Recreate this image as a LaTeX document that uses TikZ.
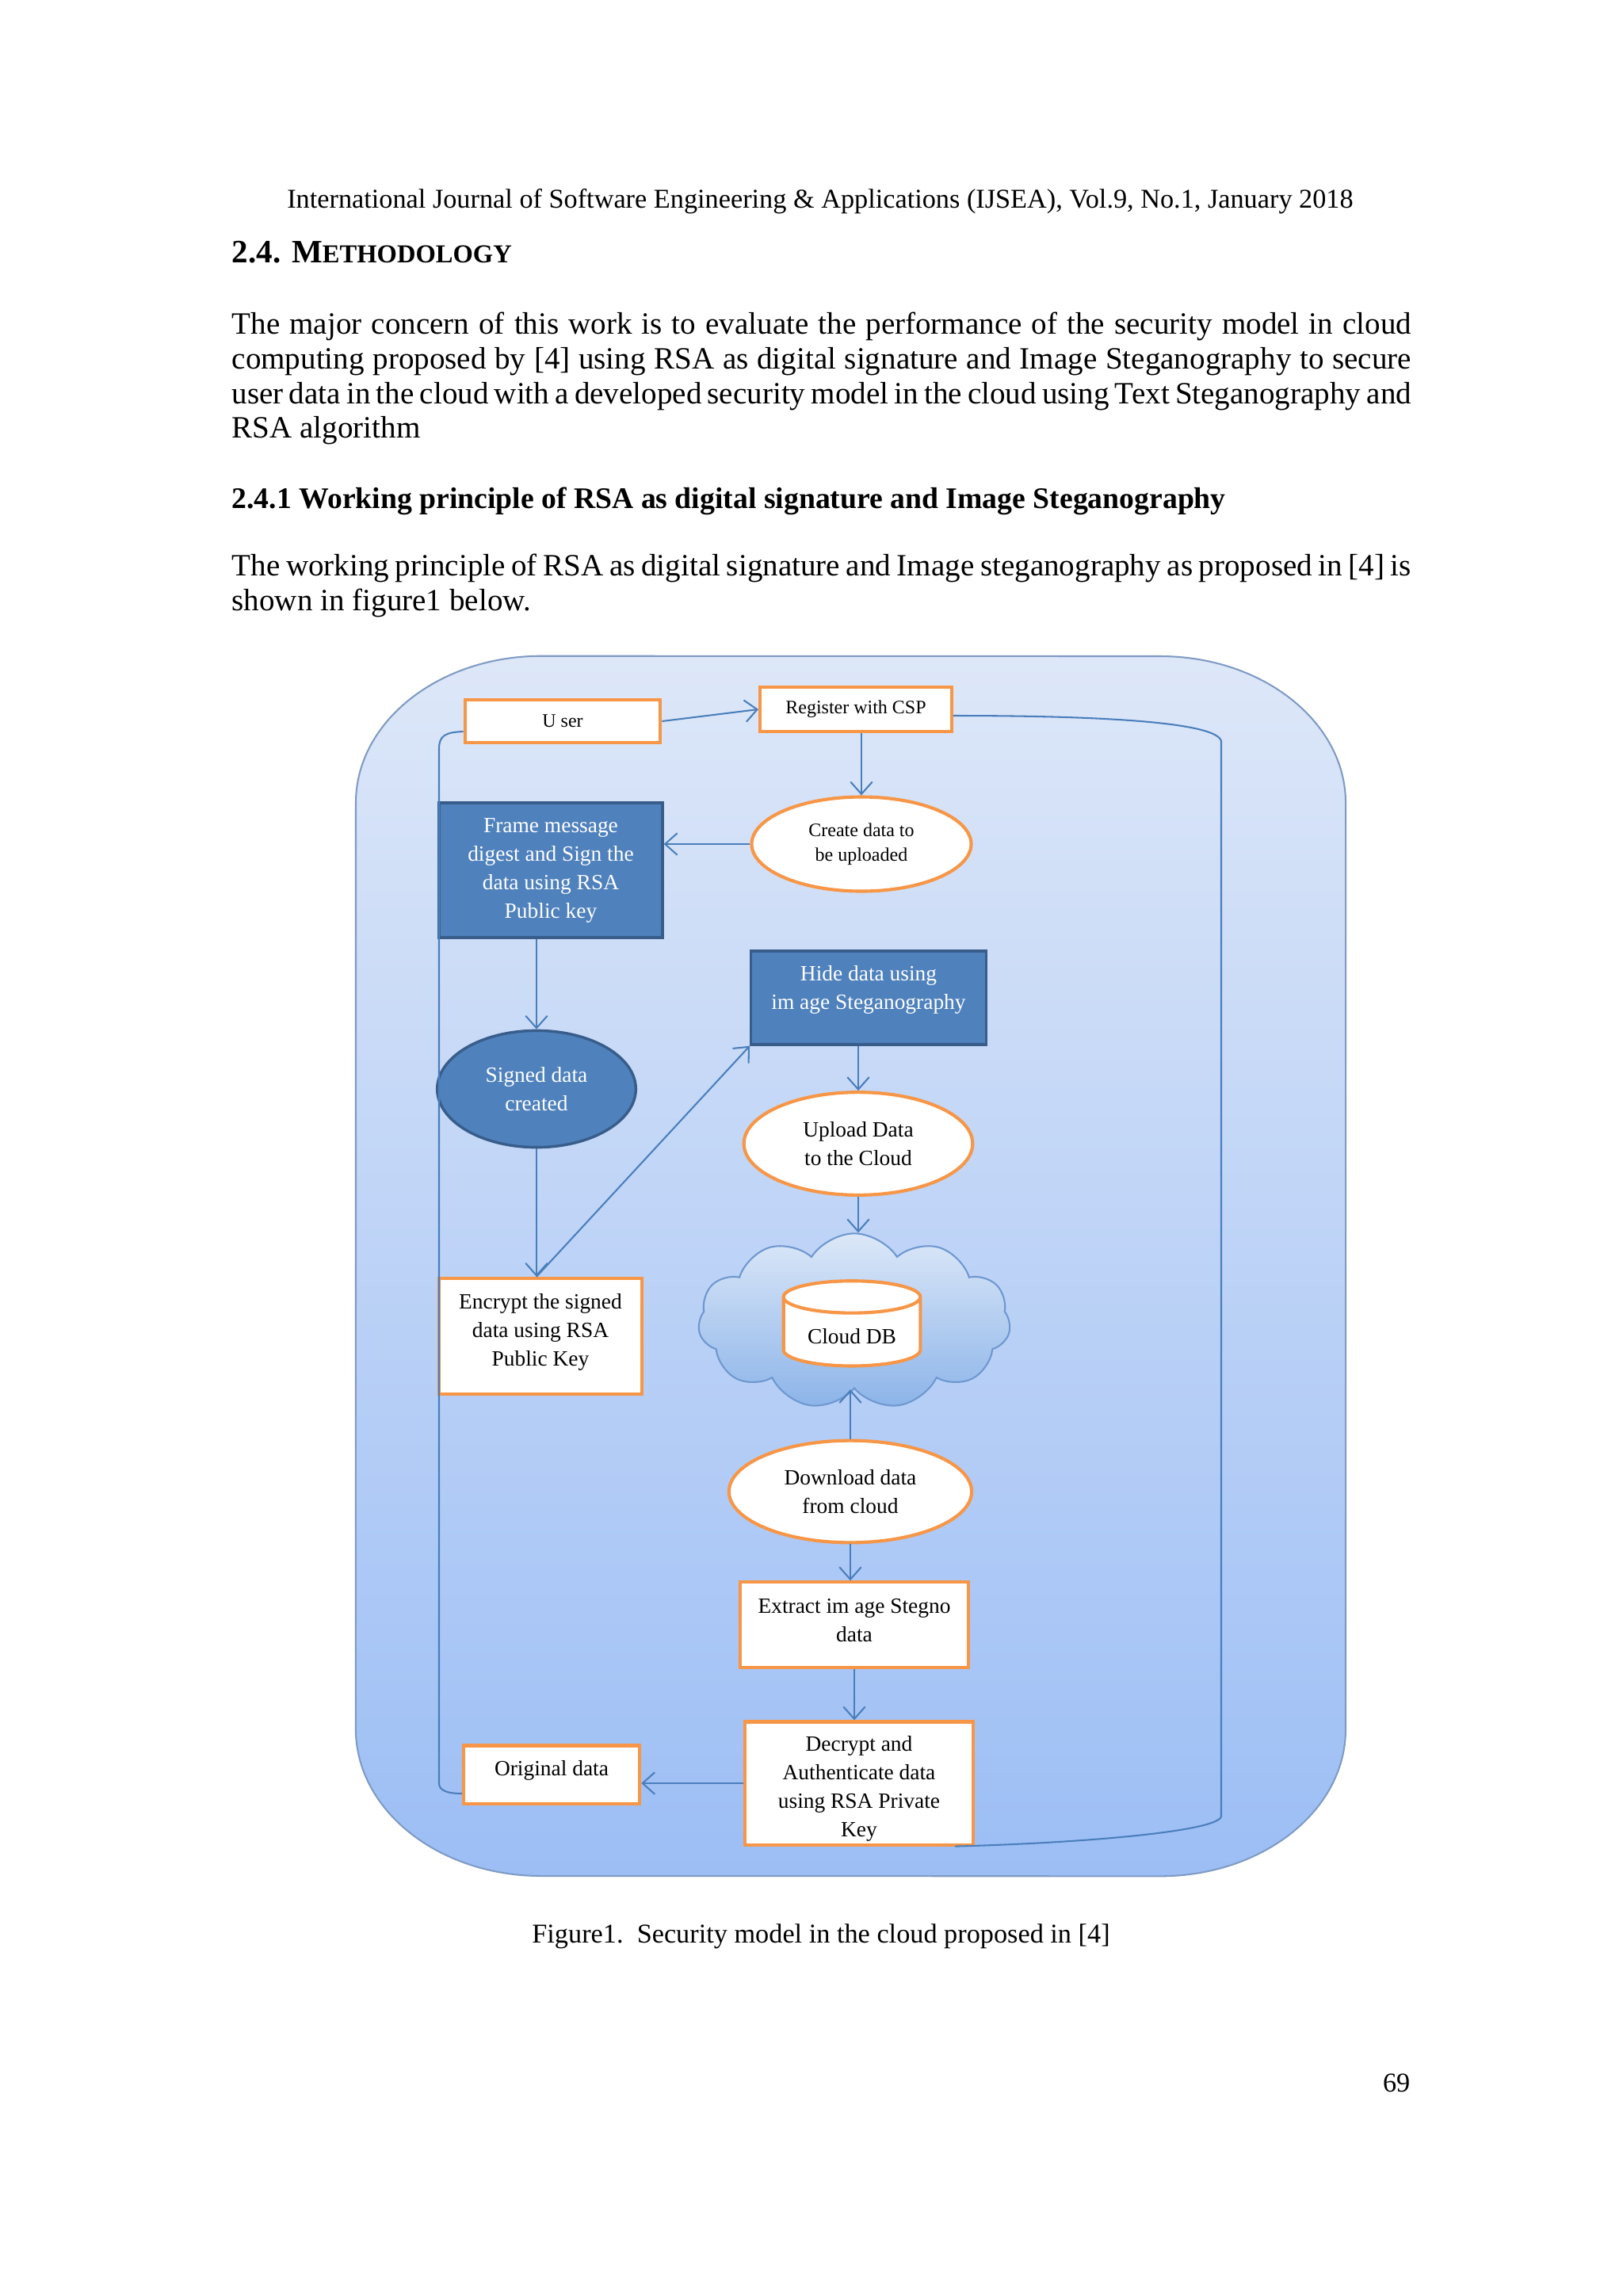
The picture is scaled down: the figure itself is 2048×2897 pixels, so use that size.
\documentclass[tikz,border=0pt]{standalone}
\usepackage{fontspec}
\setmainfont{Liberation Serif}
\usetikzlibrary{shapes.geometric, shapes.symbols, arrows.meta, calc}
\usepackage{xcolor}
\definecolor{FigOrange}{HTML}{F79646}
\definecolor{FigNavy}{HTML}{4F81BD}
\definecolor{FigNavyDark}{HTML}{385D8A}
\definecolor{FigLine}{HTML}{4A7EBB}
\definecolor{FigBgTop}{HTML}{DDE7F8}
\definecolor{FigBgBottom}{HTML}{9CBEF5}
\definecolor{FigBgBorder}{HTML}{7F9AC4}
\definecolor{CloudTop}{HTML}{DCE8F8}
\definecolor{CloudBottom}{HTML}{8CB4E9}
\definecolor{CloudBorder}{HTML}{6E97CF}
\tikzset{
    % Page text
    bodytext/.style={
        anchor=base west,
        inner sep=0pt,
        font=\fontsize{11.4}{12.7}\selectfont
    },
    smalltext/.style={
        inner sep=0pt,
        font=\fontsize{10}{12}\selectfont
    },
    % Box styles
    whitebox/.style={
        rectangle,
        draw=FigOrange,
        fill=white,
        line width=1.2pt,
        align=center,
        inner sep=1pt,
        font=\fontsize{8}{10.5}\selectfont
    },
    bluebox/.style={
        rectangle,
        draw=FigNavyDark,
        fill=FigNavy,
        line width=1pt,
        text=white,
        align=center,
        inner sep=1pt,
        font=\fontsize{8}{10.5}\selectfont
    },
    whiteoval/.style={
        ellipse,
        draw=FigOrange,
        fill=white,
        line width=1.2pt,
        align=center,
        inner sep=0pt,
        font=\fontsize{8}{10.5}\selectfont
    },
    blueoval/.style={
        ellipse,
        draw=FigNavyDark,
        fill=FigNavy,
        line width=1pt,
        text=white,
        align=center,
        inner sep=0pt,
        font=\fontsize{8}{10.5}\selectfont
    },
    cloudshape/.style={
        cloud,
        cloud puffs=11,
        cloud puff arc=115,
        draw=CloudBorder,
        top color=CloudTop,
        bottom color=CloudBottom,
        line width=0.6pt,
        minimum width=4.04cm,
        minimum height=2.27cm
    },
    dbcyl/.style={
        cylinder,
        shape border rotate=90,
        aspect=0.3,
        draw=FigOrange,
        line width=1.2pt,
        cylinder uses custom fill,
        cylinder body fill=white,
        cylinder end fill=white,
        minimum width=1.77cm,
        minimum height=1.1cm,
        font=\fontsize{8}{10.5}\selectfont
    },
    % Connectors
    arrow/.style={
        -{Straight Barb[length=4.5pt,width=8pt]},
        line width=0.6pt,
        draw=FigLine
    },
    loopline/.style={
        line width=0.6pt,
        draw=FigLine
    }
}

\begin{document}
\begin{tikzpicture}[x=0.010254cm, y=-0.010254cm]
    \fill[white] (0,0) rectangle (2048,2897);
    \useasboundingbox (0,0) rectangle (2048,2897);

    % page text
    \node[smalltext, anchor=base] (header) at (1035,262) {International Journal of Software Engineering \& Applications (IJSEA), Vol.9, No.1, January 2018};
    \node[bodytext, font=\fontsize{12}{12.7}\selectfont\bfseries] (sechead) at (292,331) {2.4. M{\fontsize{9.5}{10}\selectfont ETHODOLOGY}};

    \node[bodytext] (introa) at (292,421) {\makebox[15.26cm][s]{The major concern of this work is to evaluate the performance of the security model in cloud}};
    \node[bodytext] (introb) at (292,465) {\makebox[15.26cm][s]{computing proposed by [4] using RSA as digital signature and Image Steganography to secure}};
    \node[bodytext] (introc) at (292,509) {\makebox[15.26cm][s]{user data in the cloud with a developed security model in the cloud using Text Steganography and}};
    \node[bodytext] (introd) at (292,552) {RSA algorithm};

    \node[bodytext, font=\fontsize{11}{12.7}\selectfont\bfseries] (subhead) at (292,641) {2.4.1 Working principle of RSA as digital signature and Image Steganography};

    \node[bodytext] (princa) at (292,726) {\makebox[15.26cm][s]{The working principle of RSA as digital signature and Image steganography as proposed in [4] is}};
    \node[bodytext] (princb) at (292,770) {shown in figure1 below.};

    % figure background
    \path[top color=FigBgTop, bottom color=FigBgBottom, draw=FigBgBorder, line width=0.6pt]
        (449,1013) arc[start angle=180, end angle=90, x radius=2.4cm, y radius=1.9cm]
        -- (1464,828) arc[start angle=90, end angle=0, x radius=2.4cm, y radius=1.9cm]
        -- (1698,2182) arc[start angle=0, end angle=-90, x radius=2.4cm, y radius=1.9cm]
        -- (683,2367) arc[start angle=-90, end angle=-180, x radius=2.4cm, y radius=1.9cm]
        -- cycle;

    % nodes
    \node[whitebox, minimum width=2.53cm, minimum height=0.56cm, font=\fontsize{7}{9}\selectfont] (user) at (710,910) {U ser};
    \node[whitebox, minimum width=2.48cm, minimum height=0.57cm, font=\fontsize{7}{9}\selectfont] (register) at (1080,895) {Register with CSP};
    \node[whiteoval, minimum width=2.84cm, minimum height=1.22cm, font=\fontsize{7}{9}\selectfont] (create) at (1087,1065) {Create data to\\be uploaded};
    \node[bluebox, minimum width=2.89cm, minimum height=1.74cm] (frame) at (695,1098) {Frame message\\digest and Sign the\\data using RSA\\Public key};
    \node[bluebox, minimum width=3.04cm, minimum height=1.21cm] (hide) at (1096,1259) {Hide data using\\im age Steganography\\[-3pt]};
    \node[blueoval, minimum width=2.57cm, minimum height=1.51cm] (signed) at (677,1374) {Signed data\\created};
    \node[whiteoval, minimum width=2.96cm, minimum height=1.33cm] (upload) at (1083,1443) {Upload Data\\to the Cloud};
    \node[cloudshape] (cloud) at (1078,1667) {};
    \node[dbcyl] (clouddb) at (1075,1686) {Cloud DB};
    \node[whitebox, minimum width=2.63cm, minimum height=1.5cm] (encrypt) at (682,1686) {Encrypt the signed\\data using RSA\\Public Key\\[-6pt]};
    \node[whiteoval, minimum width=3.14cm, minimum height=1.32cm] (download) at (1073,1882) {Download data\\from cloud};
    \node[whitebox, minimum width=2.95cm, minimum height=1.1cm] (extract) at (1078,2050) {Extract im age Stegno\\data\\[-7pt]};
    \node[whitebox, minimum width=2.95cm, minimum height=1.59cm] (decrypt) at (1084,2250) {\rule{0pt}{9.5pt}Decrypt and\\Authenticate data\\using RSA Private\\Key};
    \node[whitebox, minimum width=2.28cm, minimum height=0.75cm] (original) at (696,2239) {Original data\\[-6pt]};

    % connectors
    \draw[arrow] (user.east) -- (register.west);
    \draw[arrow] (create.north |- register.south) -- (create.north);
    \draw[arrow] (create.west) -- (create.west -| frame.east);
    \draw[arrow] (signed.north |- frame.south) -- (signed.north);
    \draw[arrow] (signed.south) -- (signed.south |- encrypt.north);
    \draw[arrow] (signed.south |- encrypt.north) -- (hide.south west);
    \draw[arrow] (upload.north |- hide.south) -- (upload.north);
    \draw[arrow] (upload.south) -- (upload.south |- cloud.north);
    \draw[arrow] (download.north) -- (download.north |- cloud.south);
    \draw[arrow] (download.south) -- (download.south |- extract.north);
    \draw[arrow] (extract.south) -- (extract.south |- decrypt.north);
    \draw[arrow] (decrypt.west) -- (decrypt.west -| original.east);

    % return lines
    \draw[loopline] ($(user.west)+(0,13)$) .. controls (562,924) and (554,928) .. (554,945)
        -- (554,2250) .. controls (554,2258) and (562,2263) .. ($(original.west)+(0,24)$);
    \draw[loopline] ($(register.east)+(0,8)$) .. controls (1400,903) and (1535,912) .. (1541,935)
        -- (1541,2292) .. controls (1535,2312) and (1350,2326) .. ($(decrypt.south east)+(-25,0)$);

    % caption and page number
    \node[smalltext, anchor=base] (caption) at (1036,2451) {Figure1.\ \ Security model in the cloud proposed in [4]};
    \node[smalltext, anchor=base east] (pagenum) at (1780,2639) {69};
\end{tikzpicture}
\end{document}
